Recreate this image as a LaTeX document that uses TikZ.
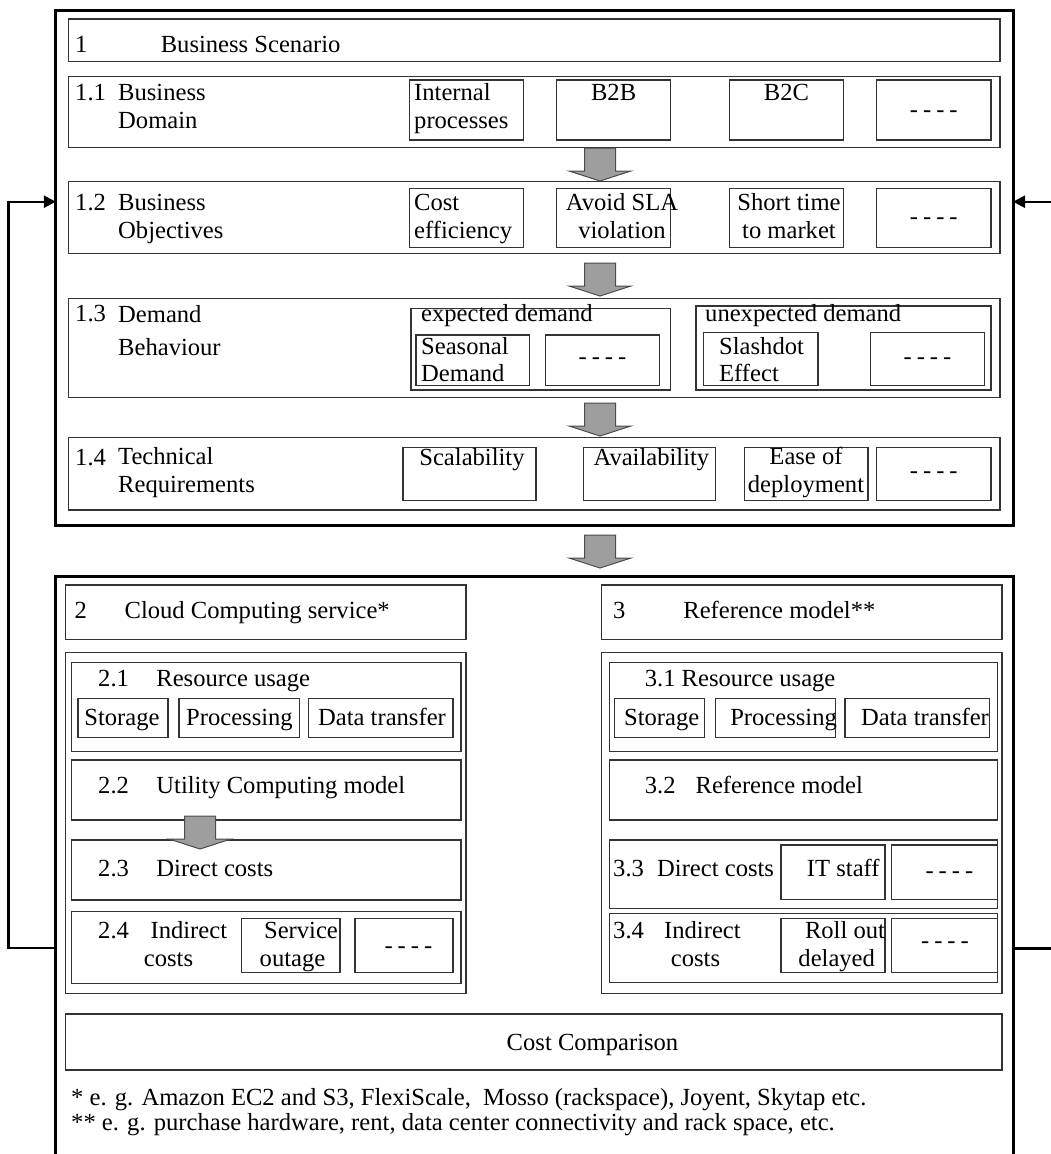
\documentclass[tikz,border=0pt]{standalone}
\usepackage{fontspec}
\setmainfont{Liberation Serif}
\usetikzlibrary{arrows.meta,fit}
\newcommand{\fourdash}{-\hspace{5pt}-\hspace{5pt}-\hspace{5pt}-}

\begin{document}
\begin{tikzpicture}[x = 1pt, y = -1pt]
\tikzstyle{outerStyle} = [draw = black, line width = 3pt, inner sep = 0pt, outer sep = 0pt]
\tikzstyle{boxStyle} = [draw = black!80, line width = 1.4pt, inner sep = 0pt, outer sep = 0pt]
\tikzstyle{textStyle} = [inner sep = 0pt, anchor = base west, font = \fontsize{24.6}{28}\selectfont]
\tikzstyle{midStyle} = [textStyle, anchor = base]
\tikzstyle{feedStyle} = [line width = 2.4pt, -{Triangle[length = 12pt, width = 12pt]}]
\tikzset{pics/blockdown/.style = {code = {
  \draw[fill = black!38, draw = black!70, line width = 1pt] (-15.5,0) -- (15.5,0) -- (15.5,23) -- (31,23) -- (0,33) -- (-31,23) -- (-15.5,23) -- cycle;}}}
\useasboundingbox (0,0) rectangle (1051,1154);
\node[outerStyle, fit = {(55.8,10) (1013,525)}] (scen) {};
\node[outerStyle, fit = {(55.8,576.7) (1013,1180)}] (eval) {};
\node[boxStyle, fit = {(68.3,19) (1000,61.7)}] (sc) {};
\node[textStyle] (scNum) at (75,52.3) {1};
\node[textStyle] (scTxt) at (160.6,52.3) {Business Scenario};
\node[boxStyle, fit = {(68.3,76.7) (1000,147.7)}] (dom) {};
\node[textStyle] (domNum) at (75,100) {1.1};
\node[textStyle, align = left] (domTxt) at (118,128.3) {Business\\Domain};
\node[boxStyle, fit = {(409.4,80) (523.3,140)}] (domInt) {};
\node[textStyle, align = left] (domIntTxt) at (414,128.3) {Internal\\processes};
\node[boxStyle, fit = {(556.6,80) (670.7,140)}] (domB2B) {};
\node[midStyle] (domB2BTxt) at (613.6,100) {B2B};
\node[boxStyle, fit = {(729.3,80) (843.7,140)}] (domB2C) {};
\node[midStyle] (domB2CTxt) at (786.5,100) {B2C};
\node[boxStyle, fit = {(876.6,80) (991,140)}] (domEtc) {};
\node[midStyle] (domEtcTxt) at (933.8,117) {\fourdash};
\node[boxStyle, fit = {(68.3,181.7) (1000,253.3)}] (obj) {};
\node[textStyle] (objNum) at (75,210.7) {1.2};
\node[textStyle, align = left] (objTxt) at (118,238.3) {Business\\Objectives};
\node[boxStyle, fit = {(409.4,188.3) (523.3,247.3)}] (objCost) {};
\node[textStyle, align = left] (objCostTxt) at (414,238.3) {Cost\\efficiency};
\node[boxStyle, fit = {(556.6,188.3) (670.7,247.3)}] (objSla) {};
\node[midStyle, align = center] (objSlaTxt) at (622,238.3) {Avoid SLA\\violation};
\node[boxStyle, fit = {(729.3,188.3) (843.7,247.3)}] (objTime) {};
\node[midStyle, align = center] (objTimeTxt) at (789,238.3) {Short time\\to market};
\node[boxStyle, fit = {(876.6,188.3) (991,247.3)}] (objEtc) {};
\node[midStyle] (objEtcTxt) at (933.8,224) {\fourdash};
\node[boxStyle, fit = {(68.3,298.3) (1000,397.7)}] (dem) {};
\node[textStyle] (demNum) at (75,321.7) {1.3};
\node[textStyle, align = left] (demTxt) at (118,355) {Demand\\[5pt]Behaviour};
\node[boxStyle, fit = {(410.8,308.3) (670.7,390)}] (demExp) {};
\node[textStyle] (demExpTxt) at (421,321.7) {expected demand};
\node[boxStyle, fit = {(415.8,335) (529.5,385.7)}] (demSeas) {};
\node[textStyle, align = left] (demSeasTxt) at (421,381.7) {Seasonal\\[-1pt]Demand};
\node[boxStyle, fit = {(545.4,335) (659.5,385.7)}] (demExpEtc) {};
\node[midStyle] (demExpEtcTxt) at (602.5,364) {\fourdash};
\node[boxStyle, fit = {(696,306) (991,390)}] (demUnexp) {};
\node[textStyle] (demUnexpTxt) at (705,321.7) {unexpected demand};
\node[boxStyle, fit = {(703.5,332.3) (818,385.7)}] (demSlash) {};
\node[textStyle, align = left] (demSlashTxt) at (719,381.7) {Slashdot\\[-1pt]Effect};
\node[boxStyle, fit = {(870.5,332.3) (984.6,385.7)}] (demUnexpEtc) {};
\node[midStyle] (demUnexpEtcTxt) at (927.5,364) {\fourdash};
\node[boxStyle, fit = {(68.3,437.3) (1000,510)}] (tec) {};
\node[textStyle] (tecNum) at (75,465) {1.4};
\node[textStyle, align = left] (tecTxt) at (118,492.7) {Technical\\Requirements};
\node[boxStyle, fit = {(403,447.3) (536,500.7)}] (tecScal) {};
\node[midStyle] (tecScalTxt) at (472,465) {Scalability};
\node[boxStyle, fit = {(583.7,447.3) (715.7,500.7)}] (tecAvail) {};
\node[midStyle] (tecAvailTxt) at (651.4,465) {Availability};
\node[boxStyle, fit = {(744.2,447.3) (867.8,500.7)}] (tecEase) {};
\node[midStyle, align = center] (tecEaseTxt) at (806,492.7) {Ease of\\deployment};
\node[boxStyle, fit = {(876.6,447.3) (991,500.7)}] (tecEtc) {};
\node[midStyle] (tecEtcTxt) at (933.8,478) {\fourdash};
\pic (arrA) at (600,148) {blockdown};
\pic (arrB) at (600,263) {blockdown};
\pic (arrC) at (600,403) {blockdown};
\pic (arrD) at (600,535) {blockdown};
\node[boxStyle, fit = {(65.2,585) (465.9,639.3)}] (cc) {};
\node[textStyle] (ccNum) at (74.4,618.3) {2};
\node[textStyle] (ccTxt) at (124.4,618.3) {Cloud Computing service*};
\node[boxStyle, fit = {(601.3,585) (1002,639.3)}] (ref) {};
\node[textStyle] (refNum) at (613,618.3) {3};
\node[textStyle] (refTxt) at (683.2,618.3) {Reference model**};
\node[boxStyle, fit = {(65.2,652.7) (465.9,993.3)}] (ccGrp) {};
\node[boxStyle, fit = {(601.3,652.7) (1002,993.3)}] (refGrp) {};
\node[boxStyle, fit = {(71.7,662.7) (460.8,751.7)}] (cc1) {};
\node[textStyle] (cc1Num) at (98,686.7) {2.1};
\node[textStyle] (cc1Txt) at (156.2,686.7) {Resource usage};
\node[boxStyle, fit = {(78,698.7) (168,737.3)}] (ccStor) {};
\node[midStyle] (ccStorTxt) at (122,725) {Storage};
\node[boxStyle, fit = {(178.8,698.7) (299.5,737.3)}] (ccProc) {};
\node[midStyle] (ccProcTxt) at (239.5,725) {Processing};
\node[boxStyle, fit = {(308.3,698.7) (453,737.3)}] (ccData) {};
\node[midStyle] (ccDataTxt) at (382,725) {Data transfer};
\node[boxStyle, fit = {(71.7,760) (460.8,820)}] (cc2) {};
\node[textStyle] (cc2Num) at (98,793.3) {2.2};
\node[textStyle] (cc2Txt) at (156.2,793.3) {Utility Computing model};
\node[boxStyle, fit = {(71.7,840) (460.8,900)}] (cc3) {};
\node[textStyle] (cc3Num) at (98,876.7) {2.3};
\node[textStyle] (cc3Txt) at (156.2,876.7) {Direct costs};
\node[boxStyle, fit = {(71.7,911.7) (460.8,983.3)}] (cc4) {};
\node[textStyle] (cc4Num) at (98,938.3) {2.4};
\node[textStyle] (cc4TxtA) at (150.4,938.3) {Indirect};
\node[textStyle] (cc4TxtB) at (143.7,966.7) {costs};
\node[boxStyle, fit = {(241.4,918.3) (339.8,972.7)}] (ccOut) {};
\node[midStyle] (ccOutTxtA) at (301,938.3) {Service};
\node[midStyle] (ccOutTxtB) at (292.5,966.7) {outage};
\node[boxStyle, fit = {(355,918.3) (453,972.7)}] (ccEtc) {};
\node[midStyle] (ccEtcTxt) at (408.4,953.2) {\fourdash};
\pic (arrE) at (200,816) {blockdown};
\node[boxStyle, fit = {(609.7,662.7) (997.5,751.7)}] (ref1) {};
\node[textStyle] (ref1Txt) at (644.6,686.7) {3.1 Resource usage};
\node[boxStyle, fit = {(614.5,698.7) (704.6,737.3)}] (refStor) {};
\node[midStyle] (refStorTxt) at (661.7,725) {Storage};
\node[boxStyle, fit = {(715.4,698.7) (835.6,737.3)}] (refProc) {};
\node[midStyle] (refProcTxt) at (783.6,725) {Processing};
\node[boxStyle, fit = {(845,698.7) (989.7,737.3)}] (refData) {};
\node[midStyle] (refDataTxt) at (925,725) {Data transfer};
\node[boxStyle, fit = {(609.7,760) (997.5,820)}] (ref2) {};
\node[textStyle] (ref2Num) at (644.6,793.3) {3.2};
\node[textStyle] (ref2Txt) at (695.4,793.3) {Reference model};
\node[boxStyle, fit = {(609.7,840) (997.5,908.3)}] (ref3) {};
\node[textStyle] (ref3Num) at (613,876.7) {3.3};
\node[textStyle] (ref3Txt) at (657,876.7) {Direct costs};
\node[boxStyle, fit = {(780.8,845) (885,899.3)}] (refStaff) {};
\node[midStyle] (refStaffTxt) at (843.3,876.7) {IT staff};
\node[boxStyle, fit = {(891.5,845) (997.5,899.3)}] (refStaffEtc) {};
\node[midStyle] (refStaffEtcTxt) at (949.4,878.8) {\fourdash};
\node[boxStyle, fit = {(609.7,913.3) (997.5,982.7)}] (ref4) {};
\node[textStyle] (ref4Num) at (613,938.3) {3.4};
\node[textStyle] (ref4TxtA) at (664,938.3) {Indirect};
\node[textStyle] (ref4TxtB) at (670.7,966.7) {costs};
\node[boxStyle, fit = {(780.8,918.3) (885,972.7)}] (refRoll) {};
\node[midStyle] (refRollTxtA) at (845,938.3) {Roll out};
\node[midStyle] (refRollTxtB) at (836.7,966.7) {delayed};
\node[boxStyle, fit = {(891.5,918.3) (997.5,972.7)}] (refRollEtc) {};
\node[midStyle] (refRollEtcTxt) at (945,948.8) {\fourdash};
\node[boxStyle, fit = {(65.2,1014) (1002,1070)}] (cmp) {};
\node[midStyle] (cmpTxt) at (592.5,1050) {Cost Comparison};
\node[textStyle] (note1) at (71,1105) {* e. g. Amazon EC2 and S3, FlexiScale,\ \ Mosso (rackspace), Joyent, Skytap etc.};
\node[textStyle] (note2) at (71,1130) {** e. g. purchase hardware, rent, data center connectivity and rack space, etc.};
\coordinate (backL1) at (8.5,947.7);
\coordinate (backL2) at (8.5,201.7);
\coordinate (backR1) at (1065,948.3);
\coordinate (backR2) at (1065,201.7);
\draw[feedStyle] (eval.west |- backL1) -- (backL1) -- (backL2) -- (scen.west |- backL2);
\draw[feedStyle] (eval.east |- backR1) -- (backR1) -- (backR2) -- (scen.east |- backR2);
\end{tikzpicture}
\end{document}
